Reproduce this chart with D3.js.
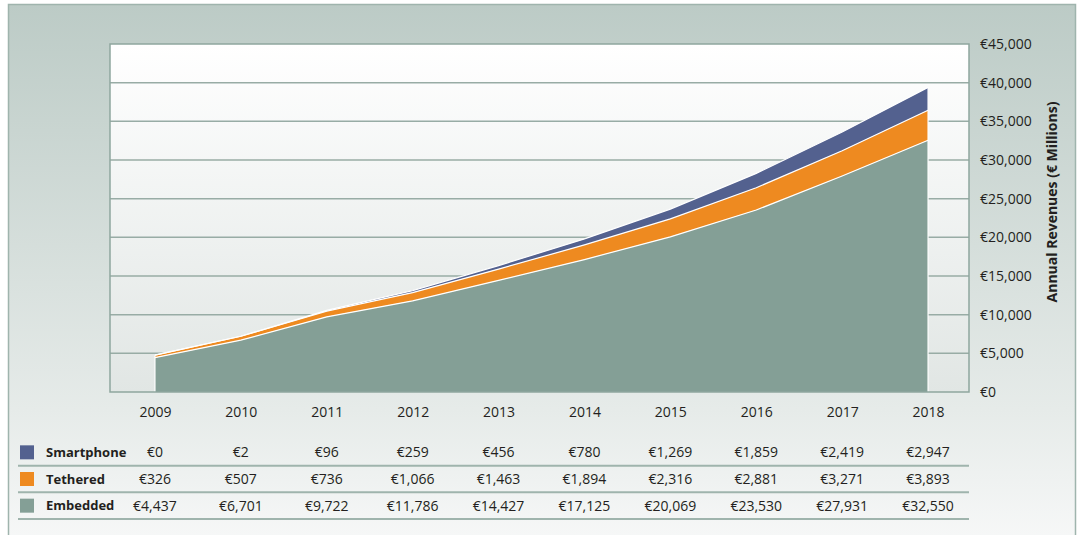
<!DOCTYPE html>
<html lang="en">
<head>
  <meta charset="UTF-8">
  <title>Annual Revenues</title>
  <style>
    * { padding: 0; margin: 0; }
    html, body { width: 100%; height: 100%; background: #fff; }
    svg { display: block; font-family: "Open Sans", "Noto Sans", sans-serif; }
    text { fill: #231f20; }
  </style>
</head>
<body>
  <svg id="svg"></svg>
  <script src="https://cdnjs.cloudflare.com/ajax/libs/d3/7.8.5/d3.min.js"></script>
  <script>
    const years = ['2009', '2010', '2011', '2012', '2013', '2014', '2015', '2016', '2017', '2018'];
    const smartphone = [0, 2, 96, 259, 456, 780, 1269, 1859, 2419, 2947];
    const tethered = [326, 507, 736, 1066, 1463, 1894, 2316, 2881, 3271, 3893];
    const embedded = [4437, 6701, 9722, 11786, 14427, 17125, 20069, 23530, 27931, 32550];
    const seriesNames = ['Smartphone', 'Tethered', 'Embedded'];
    const seriesColors = ['#53618f', '#ee8a20', '#849f96'];
    const yTicks = [0, 5000, 10000, 15000, 20000, 25000, 30000, 35000, 40000, 45000];

    const width = 1083, height = 535;
    const plot = { left: 110, right: 969, top: 44, bottom: 392 };

    const svg = d3.select('#svg').attr('width', width).attr('height', height);
    const defs = svg.append('defs');

    const outerGrad = defs.append('linearGradient').attr('id', 'outerGrad')
      .attr('x1', 0).attr('y1', 0).attr('x2', 0).attr('y2', 1);
    outerGrad.append('stop').attr('offset', '0%').attr('stop-color', '#bccbc6');
    outerGrad.append('stop').attr('offset', '75%').attr('stop-color', '#e6ebe9');
    outerGrad.append('stop').attr('offset', '100%').attr('stop-color', '#f7f8f8');

    const plotGrad = defs.append('linearGradient').attr('id', 'plotGrad')
      .attr('x1', 0).attr('y1', 0).attr('x2', 0).attr('y2', 1);
    plotGrad.append('stop').attr('offset', '0%').attr('stop-color', '#ffffff');
    plotGrad.append('stop').attr('offset', '100%').attr('stop-color', '#e1e6e4');

    // outer panel
    svg.append('rect')
      .attr('x', 8.5).attr('y', 4.5)
      .attr('width', 1067).attr('height', 540)
      .attr('fill', 'url(#outerGrad)')
      .attr('stroke', '#9fb4ad').attr('stroke-width', 1.5);

    const x = d3.scalePoint().domain(years).range([plot.left + 2, plot.right + 2]).padding(0.5);
    const y = d3.scaleLinear().domain([0, 45000]).range([plot.bottom, plot.top]);

    // plot background
    svg.append('rect')
      .attr('x', plot.left).attr('y', plot.top)
      .attr('width', plot.right - plot.left).attr('height', plot.bottom - plot.top)
      .attr('fill', 'url(#plotGrad)');

    // gridlines
    svg.append('g')
      .selectAll('line')
      .data(yTicks.slice(1, -1))
      .join('line')
      .attr('x1', plot.left).attr('x2', plot.right)
      .attr('y1', d => y(d)).attr('y2', d => y(d))
      .attr('stroke', '#98aca5').attr('stroke-width', 1.5);

    // stacked areas
    const rows = years.map((yr, i) => ({
      year: yr, Embedded: embedded[i], Tethered: tethered[i], Smartphone: smartphone[i]
    }));
    const stack = d3.stack().keys(['Embedded', 'Tethered', 'Smartphone']);
    const layers = stack(rows);
    const colorOf = d3.scaleOrdinal().domain(seriesNames).range(seriesColors);

    const area = d3.area()
      .x(d => x(d.data.year))
      .y0(d => y(d[0]))
      .y1(d => y(d[1]));
    const topLine = d3.line()
      .x(d => x(d.data.year))
      .y(d => y(d[1]));

    svg.append('g')
      .selectAll('path')
      .data(layers)
      .join('path')
      .attr('d', area)
      .attr('fill', d => colorOf(d.key));

    svg.append('g')
      .selectAll('path')
      .data(layers)
      .join('path')
      .attr('d', topLine)
      .attr('fill', 'none')
      .attr('stroke', '#fff')
      .attr('stroke-width', 1.2);

    // white edges at the ends of the area
    const totals = rows.map(r => r.Embedded + r.Tethered + r.Smartphone);
    svg.append('g')
      .selectAll('line')
      .data([0, years.length - 1])
      .join('line')
      .attr('x1', i => x(years[i])).attr('x2', i => x(years[i]))
      .attr('y1', y(0)).attr('y2', i => y(totals[i]))
      .attr('stroke', '#fff').attr('stroke-width', 1.2);

    // plot border
    svg.append('rect')
      .attr('x', plot.left).attr('y', plot.top)
      .attr('width', plot.right - plot.left).attr('height', plot.bottom - plot.top)
      .attr('fill', 'none')
      .attr('stroke', '#8ea69e').attr('stroke-width', 1.5);

    // right axis
    const yAxis = d3.axisRight(y).tickValues(yTicks).tickSize(0).tickPadding(11)
      .tickFormat(d => '€' + d3.format(',')(d));
    svg.append('g')
      .attr('transform', `translate(${plot.right},0)`)
      .call(yAxis)
      .call(g => g.select('.domain').remove())
      .selectAll('text')
      .attr('font-size', 14)
      .attr('font-family', '"Open Sans", sans-serif')
      .attr('fill', '#231f20');

    svg.append('text')
      .attr('transform', 'translate(1057,202) rotate(-90)')
      .attr('text-anchor', 'middle')
      .attr('font-size', 14)
      .attr('font-weight', 'bold')
      .text('Annual Revenues (€ Millions)');

    // x axis labels
    const xAxis = d3.axisBottom(x).tickSize(0).tickPadding(15);
    svg.append('g')
      .attr('transform', `translate(0,${plot.bottom})`)
      .call(xAxis)
      .call(g => g.select('.domain').remove())
      .selectAll('text')
      .attr('font-size', 14)
      .attr('font-family', '"Open Sans", sans-serif')
      .attr('fill', '#231f20');

    // data table
    const tableSeries = [
      { name: 'Smartphone', values: smartphone },
      { name: 'Tethered', values: tethered },
      { name: 'Embedded', values: embedded }
    ];
    const rowY = d3.scaleBand().domain(seriesNames).range([439, 519]);

    const table = svg.append('g');
    const trow = table.selectAll('g')
      .data(tableSeries)
      .join('g')
      .attr('transform', d => `translate(0,${rowY(d.name)})`);

    trow.append('rect')
      .attr('x', 20).attr('y', rowY.bandwidth() / 2 - 7)
      .attr('width', 14).attr('height', 14)
      .attr('fill', d => colorOf(d.name));

    trow.append('text')
      .attr('x', 46).attr('y', rowY.bandwidth() / 2)
      .attr('dy', '0.35em')
      .attr('font-size', 13)
      .attr('font-weight', 'bold')
      .text(d => d.name);

    trow.selectAll('text.val')
      .data(d => d.values)
      .join('text')
      .attr('class', 'val')
      .attr('x', (d, i) => x(years[i]))
      .attr('y', rowY.bandwidth() / 2)
      .attr('dy', '0.35em')
      .attr('text-anchor', 'middle')
      .attr('font-size', 14)
      .text(d => '€' + d3.format(',')(d));

    trow.append('line')
      .attr('x1', 18).attr('x2', plot.right)
      .attr('y1', rowY.bandwidth()).attr('y2', rowY.bandwidth())
      .attr('stroke', '#9fb4ad').attr('stroke-width', 2);
  </script>
</body>
</html>
